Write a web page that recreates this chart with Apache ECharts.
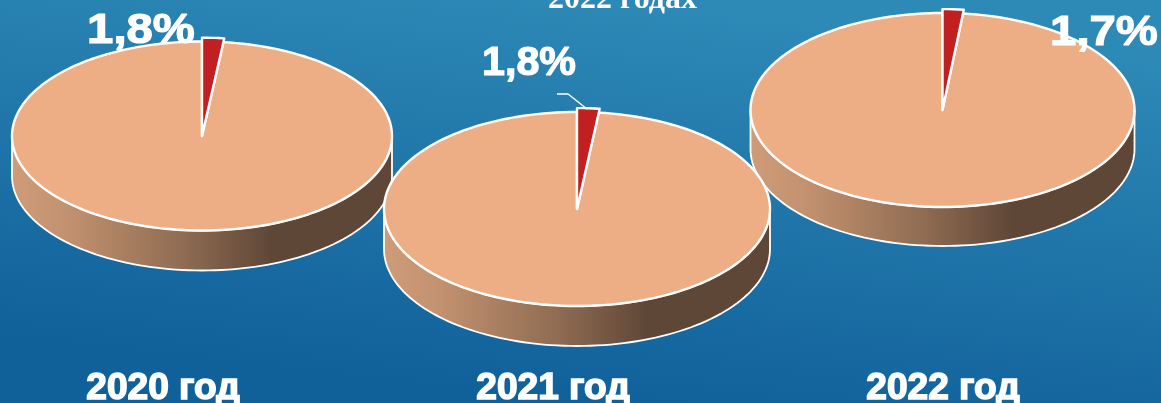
<!DOCTYPE html>
<html>
<head>
<meta charset="utf-8">
<style>
html,body{margin:0;padding:0;overflow:hidden}
#chart{width:1161px;height:403px}
</style>
<script src="https://cdn.jsdelivr.net/npm/echarts@6/dist/echarts.min.js"></script>
</head>
<body>
<div id="chart"></div>
<script>
// data
var years=['2020 год','2021 год','2022 год']
var shares=[1.8,1.8,1.7]
var shareLabels=['1,8%','1,8%','1,7%']
var titleTail='2022 годах'

// layout of each disc, drawing order is 2020, 2022, then 2021 on top
var discs=[
    {cx:202,cy:136,rx:190,ry:94.5,depth:40,labelX:141,labelY:31,labelSize:43,labelScale:1.1,yearX:163},
    {cx:577,cy:209,rx:193,ry:97,depth:40,labelX:529,labelY:64,labelSize:40,labelScale:1.03,yearX:553},
    {cx:942.5,cy:110,rx:192,ry:97,depth:39,labelX:1104,labelY:33,labelSize:43,labelScale:1.1,yearX:943}
]
var drawOrder=[0,2,1]

function arc(d,from,to,dy,k){
    var pts=[]
    var n=Math.max(2,Math.ceil(Math.abs(to-from)/2))
    for(var i=0;i<=n;i++){
        var a=(from+(to-from)*i/n)*Math.PI/180
        pts.push([d.cx+d.rx*k*Math.sin(a),d.cy+(dy||0)-d.ry*k*Math.cos(a)])
    }
    return pts
}

function renderDisc(params,api){
    var i=api.value(0)
    var share=api.value(1)
    var d=discs[i]
    var angle=share/100*360
    // front wall, from 3 o'clock round to 9 o'clock
    var wall=arc(d,90,270,0,1).concat(arc(d,270,90,d.depth,1))
    var rest=[[d.cx,d.cy]].concat(arc(d,angle,360,0,1))
    var wedge=[[d.cx,d.cy]].concat(arc(d,0,angle,0,1.04))
    var line={stroke:'#fff',lineWidth:2.4,lineJoin:'round'}
    var children=[
        {type:'polygon',shape:{points:wall},style:{
            fill:new echarts.graphic.LinearGradient(0,0,1,0,[
                {offset:0,color:'#cf9c78'},
                {offset:0.15,color:'#c2916f'},
                {offset:0.45,color:'#8f6c52'},
                {offset:0.68,color:'#5f4737'},
                {offset:1,color:'#5f4737'}
            ]),stroke:'#fff',lineWidth:1.8}},
        {type:'polygon',shape:{points:rest},style:Object.assign({fill:'#edae85'},line)},
        {type:'polygon',shape:{points:wedge},style:Object.assign({fill:'#c02020'},line)},
        {type:'text',x:d.labelX,y:d.labelY,scaleX:d.labelScale,style:{
            text:shareLabels[i],fill:'#fff',stroke:'#fff',lineWidth:1.2,
            font:'bold '+d.labelSize+'px "Liberation Sans"',align:'center',verticalAlign:'middle'}},
        {type:'text',x:d.yearX,y:389,scaleX:1.03,style:{
            text:years[i],fill:'#fff',stroke:'#fff',lineWidth:1.5,
            font:'bold 36px "Liberation Sans"',align:'center',verticalAlign:'middle'}}
    ]
    if(i===1){
        // leader line of the middle label
        children.push({type:'polyline',shape:{points:[[d.cx-20,94],[d.cx-9,94],[d.cx+10,109]]},
            style:{stroke:'#fff',lineWidth:1.3,fill:null}})
    }
    return {type:'group',children:children}
}

var chart=echarts.init(document.getElementById('chart'))
chart.setOption({
    animation:false,
    backgroundColor:{type:'linear',x:0.52,y:0,x2:0.48,y2:1,colorStops:[
        {offset:0,color:'#2d89b6'},
        {offset:1,color:'#10609a'}
    ]},
    title:{
        text:titleTail,
        left:543,
        top:-21,
        textStyle:{color:'#fff',fontFamily:'Liberation Serif',fontWeight:'bold',fontSize:32}
    },
    series:[{
        type:'custom',
        coordinateSystem:'none',
        clip:false,
        renderItem:renderDisc,
        data:drawOrder.map(function(i){return [i,shares[i]]})
    }]
})
window.addEventListener('resize',function(){chart.resize()})
</script>
</body>
</html>
